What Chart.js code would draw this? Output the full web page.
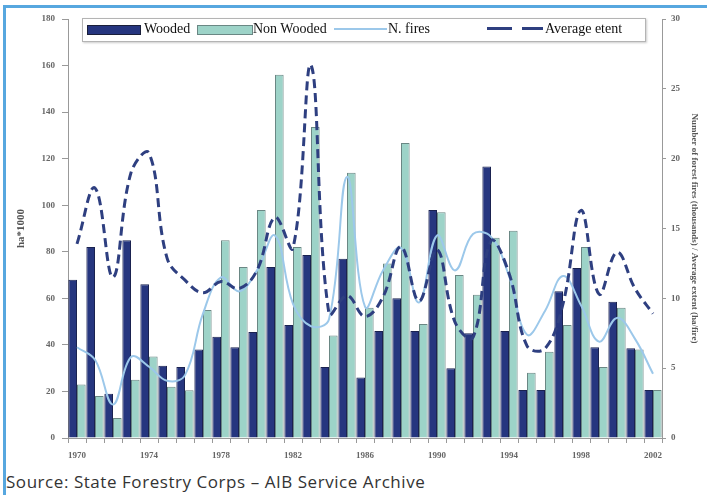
<!DOCTYPE html>
<html>
<head>
<meta charset="utf-8">
<script src="https://cdn.jsdelivr.net/npm/chart.js@4/dist/chart.umd.min.js"></script>
<style>
  body { margin: 0; background: #fff; }
  #wrap { position: relative; width: 707px; height: 495px; overflow: hidden; }
  .abs { position: absolute; }
  .lg { position: absolute; font-family: "Liberation Serif", serif; font-size: 14px; color: #111; line-height: 16px; white-space: nowrap; }
</style>
</head>
<body>
<div id="wrap">
  <div class="abs" style="left:4px;top:5px;width:703px;height:3px;background:#57a7df"></div>
  <div class="abs" style="left:3px;top:5px;width:3px;height:490px;background:#57a7df"></div>
  <div class="abs" style="left:0;top:0;width:707px;height:470px">
    <canvas id="myChart" width="707" height="470"></canvas>
  </div>

  <div class="abs" style="left:82px;top:18px;width:562px;height:22px;border:1px solid #b4b4b4;background:#fff;box-shadow:1px 1px 2px #ccc"></div>
  <div class="abs" style="left:87px;top:25px;width:52px;height:8px;background:#26367f;border:1px solid #1a1f3a"></div>
  <div class="lg" style="left:144px;top:21px">Wooded</div>
  <div class="abs" style="left:197px;top:25px;width:54px;height:8px;background:#9dd3c8;border:1px solid #6a8784"></div>
  <div class="lg" style="left:253px;top:21px">Non Wooded</div>
  <div class="abs" style="left:334px;top:28px;width:53px;height:2px;background:#9cc8ea"></div>
  <div class="lg" style="left:388px;top:21px">N. fires</div>
  <div class="abs" style="left:487px;top:27px;width:25px;height:3px;background:#2e3f80"></div>
  <div class="abs" style="left:522px;top:27px;width:21px;height:3px;background:#2e3f80"></div>
  <div class="lg" style="left:545px;top:21px">Average etent</div>

  <div class="abs" style="left:6px;top:471px;font-family:'Open Sans',sans-serif;font-size:17px;letter-spacing:0.55px;line-height:22px;color:#333;white-space:nowrap">Source: State Forestry Corps – AIB Service Archive</div>
</div>
<script>
const years = []
for (let y = 1970; y <= 2002; y++) years.push(String(y))

// ha * 1000
const wooded = [68, 82, 19, 85, 66, 31, 30.5, 38, 43.5, 39, 45.5, 73.5, 48.5, 78.6, 30.5, 77, 26, 46, 60, 46, 98, 30, 45, 116.6, 46, 20.6, 20.6, 63, 73, 39, 58.5, 38.6, 20.6]
const nonWooded = [23, 18, 8.6, 25, 35, 22, 20.5, 55, 85, 73.5, 98, 156, 82, 133.6, 44, 114, 56, 75, 126.7, 49, 97, 70, 61.5, 86, 89, 28, 37, 48.5, 82, 30.5, 56, 38, 20.6]
// thousands of fires
const nFires = [6.5, 5.6, 2.4, 5.8, 5.1, 4.1, 4.5, 8.9, 11.5, 10.5, 12.0, 14.5, 9.6, 8.0, 8.5, 18.7, 9.4, 12.0, 13.6, 9.7, 14.5, 12.0, 14.6, 14.4, 11.6, 7.4, 9.1, 11.6, 9.5, 6.9, 8.6, 7.1, 4.6]
// ha per fire
const avgExtent = [13.9, 17.9, 11.5, 19.0, 20.4, 12.9, 11.3, 10.4, 11.2, 10.7, 12.0, 15.8, 13.6, 26.7, 8.9, 10.2, 8.7, 10.1, 13.7, 9.8, 13.5, 8.3, 7.2, 14.1, 11.8, 6.6, 6.4, 9.6, 16.3, 10.3, 13.3, 10.7, 8.9]

const tickFont = { family: "Liberation Serif", size: 9, weight: "bold" }
const tickColor = "#666"

var ctx = document.getElementById("myChart").getContext("2d")

var myChart = new Chart(ctx, {
    type: "bar",
    data: {
        labels: years,
        datasets: [
            {
                label: "Average etent",
                type: "line",
                data: avgExtent,
                yAxisID: "y1",
                borderColor: "#2e3f80",
                borderWidth: 3,
                borderDash: [9, 5],
                pointRadius: 0,
                tension: 0.4,
                fill: false,
                order: 0
            },
            {
                label: "N. fires",
                type: "line",
                data: nFires,
                yAxisID: "y1",
                borderColor: "#9cc8ea",
                borderWidth: 2,
                pointRadius: 0,
                tension: 0.4,
                fill: false,
                order: 1
            },
            {
                label: "Wooded",
                data: wooded,
                yAxisID: "y",
                backgroundColor: "#26367f",
                borderColor: "#1a2250",
                borderWidth: 1,
                barPercentage: 1,
                categoryPercentage: 0.96,
                order: 2
            },
            {
                label: "Non Wooded",
                data: nonWooded,
                yAxisID: "y",
                backgroundColor: "#9dd3c8",
                borderColor: "#6a8784",
                borderWidth: 1,
                barPercentage: 1,
                categoryPercentage: 0.96,
                order: 2
            }
        ]
    },
    options: {
        responsive: false,
        animation: false,
        layout: { padding: { top: 19, left: 0, right: 0, bottom: 0 } },
        plugins: {
            legend: { display: false },
            tooltip: { enabled: false }
        },
        scales: {
            x: {
                grid: { display: true, drawOnChartArea: false, tickLength: 5, color: "#999" },
                border: { display: true, color: "#999" },
                ticks: {
                    autoSkip: false,
                    maxRotation: 0,
                    padding: 7,
                    font: tickFont,
                    color: tickColor,
                    callback: function(v, i) {
                        return i % 4 === 0 ? years[i] : ""
                    }
                },
                afterFit: function(s) { s.height = 32 }
            },
            y: {
                position: "left",
                min: 0,
                max: 180,
                ticks: { stepSize: 20, font: tickFont, color: tickColor, padding: 7 },
                grid: { drawOnChartArea: false, tickLength: 6, color: "#999" },
                border: { display: true, color: "#999" },
                title: {
                    display: true,
                    text: "ha*1000",
                    font: { family: "Liberation Serif", size: 11, weight: "bold" },
                    color: "#555",
                    padding: { top: 15 }
                },
                afterFit: function(s) { s.width = 68 }
            },
            y1: {
                position: "right",
                min: 0,
                max: 30,
                ticks: { stepSize: 5, font: tickFont, color: tickColor, padding: 5 },
                grid: { drawOnChartArea: false, tickLength: 4, color: "#999" },
                border: { display: true, color: "#999" },
                title: {
                    display: true,
                    text: "Number of forest fires (thousands) / Average extent (ha/fire)",
                    font: { family: "Liberation Serif", size: 9, weight: "bold" },
                    color: "#555",
                    padding: { top: 7 }
                },
                afterFit: function(s) { s.width = 45 }
            }
        }
    }
})
myChart.update()
</script>
</body>
</html>
